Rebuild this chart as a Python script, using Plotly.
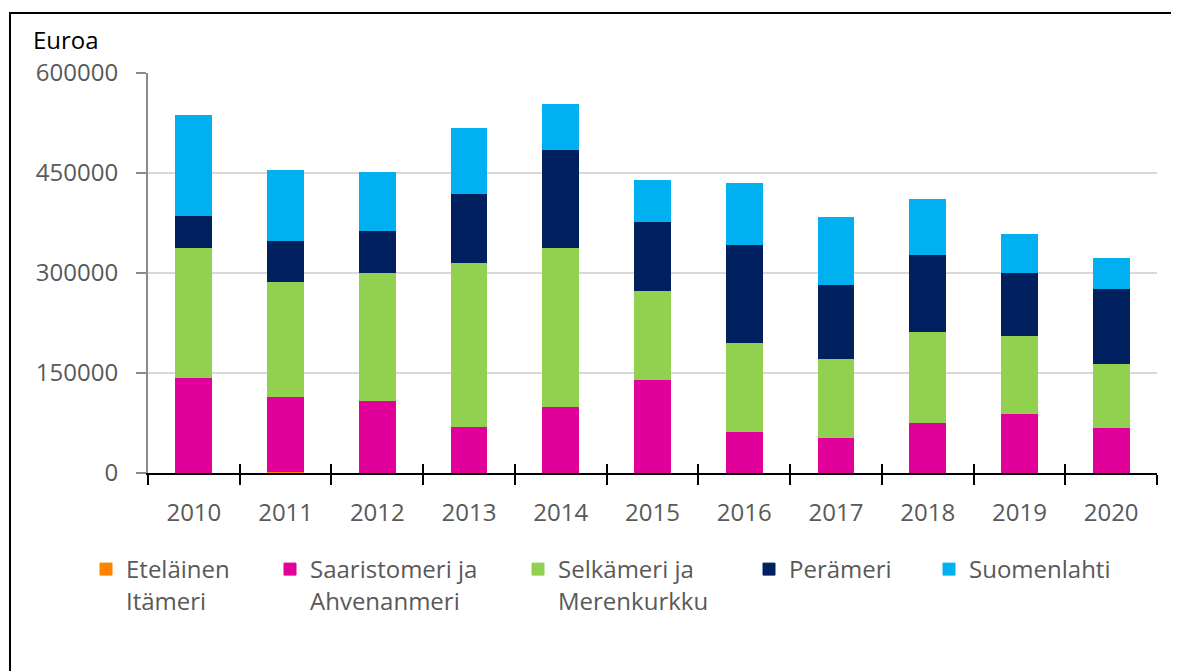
import plotly.graph_objects as go

years = ["2010", "2011", "2012", "2013", "2014", "2015", "2016", "2017", "2018", "2019", "2020"]
etelainen = [0, 3000, 0, 0, 0, 0, 0, 0, 0, 0, 0]
saaristomeri = [144000, 112000, 108500, 69500, 100000, 140000, 62000, 53500, 76000, 89000, 68000]
selkameri = [194500, 172500, 192500, 247000, 239000, 133500, 134000, 118500, 137000, 117500, 96500]
perameri = [48500, 62000, 63500, 102500, 146000, 104500, 146500, 110500, 114500, 95000, 112000]
suomenlahti = [150000, 105000, 86000, 98000, 68000, 60500, 91500, 101500, 83000, 57000, 46000]

series_names = ["Eteläinen<br>Itämeri", "Saaristomeri ja<br>Ahvenanmeri", "Selkämeri ja<br>Merenkurkku",
                "Perämeri", "Suomenlahti"]
series_values = [etelainen, saaristomeri, selkameri, perameri, suomenlahti]
series_colors = ["#FF8200", "#E2009A", "#92D050", "#002060", "#00B0F0"]
y_ticks = [0, 150000, 300000, 450000, 600000]

FONT = "Open Sans, Segoe UI, sans-serif"
W, H = 1179, 671
OFF = 8  # page body margin offset
# target plot area in screen pixels
PX0, PX1, PY0, PY1 = 148, 1157, 73, 473
L = PX0 - OFF
T = PY0 - OFF
R = W - (PX1 - OFF)
B = H - (PY1 - OFF)
PW = PX1 - PX0
PH = PY1 - PY0

def px_x(px):
    return (px - PX0) / PW

def px_y(py):
    return (PY1 - py) / PH

legend_left_px = [86, 270, 518, 749, 929]

fig = go.Figure()
for i, (name, vals, col) in enumerate(zip(series_names, series_values, series_colors)):
    lg = "legend" if i == 0 else f"legend{i+1}"
    fig.add_trace(go.Bar(x=years, y=vals, name=name,
                         marker=dict(color=col, line=dict(width=1, color=col)),
                         width=0.39, legend=lg))

# dummy trace for overlay axis with inward ticks
fig.add_trace(go.Scatter(x=years, y=[None] * len(years), xaxis="x2", yaxis="y",
                         showlegend=False, hoverinfo="skip", mode="markers"))

layout_legends = {}
for i, lx in enumerate(legend_left_px):
    key = "legend" if i == 0 else f"legend{i+1}"
    layout_legends[key] = dict(
        x=px_x(lx), xanchor="left", y=px_y(547), yanchor="top",
        orientation="v", bgcolor="rgba(0,0,0,0)", borderwidth=0,
        font=dict(family=FONT, size=24, color="#595959"), valign="top",
        traceorder="normal",
    )

fig.update_layout(
    width=W, height=H,
    margin=dict(l=L, r=R, t=T, b=B),
    paper_bgcolor="white", plot_bgcolor="white",
    barmode="stack",
    font=dict(family=FONT, size=24, color="#595959"),
    xaxis=dict(type="category", categoryarray=years, range=[-0.5, 10.5],
               showline=True, linecolor="black", linewidth=2,
               ticks="outside", ticklen=10, tickwidth=2, tickcolor="black",
               tickson="boundaries", showgrid=False,
               tickfont=dict(family=FONT, size=24, color="#595959"),
               ticklabelstandoff=17),
    xaxis2=dict(type="category", categoryarray=years, range=[-0.5, 10.5],
                overlaying="x", anchor="y", side="bottom",
                showline=False, ticks="inside", ticklen=9, tickwidth=2, tickcolor="black",
                tickson="boundaries", showticklabels=False, showgrid=False),
    yaxis=dict(range=[0, 600000], tickmode="array", tickvals=y_ticks,
               ticktext=[str(v) for v in y_ticks],
               showline=True, linecolor="#8C8C8C", linewidth=2,
               ticks="outside", ticklen=10, tickwidth=2, tickcolor="#8C8C8C",
               showgrid=True, gridcolor="#D9D9D9", gridwidth=2, zeroline=False,
               tickfont=dict(family=FONT, size=24, color="#595959"),
               ticklabelstandoff=13),
    annotations=[dict(text="Euroa", xref="paper", yref="paper", x=px_x(31), y=px_y(58),
                      xanchor="left", yanchor="bottom", showarrow=False,
                      font=dict(family=FONT, size=24, color="black"))],
    shapes=[dict(type="rect", xref="paper", yref="paper",
                 x0=px_x(10), x1=px_x(1300), y0=px_y(800), y1=px_y(13),
                 line=dict(color="black", width=2), fillcolor="rgba(0,0,0,0)", layer="above")],
    showlegend=True,
    **layout_legends,
)

fig.write_html("out.html")
